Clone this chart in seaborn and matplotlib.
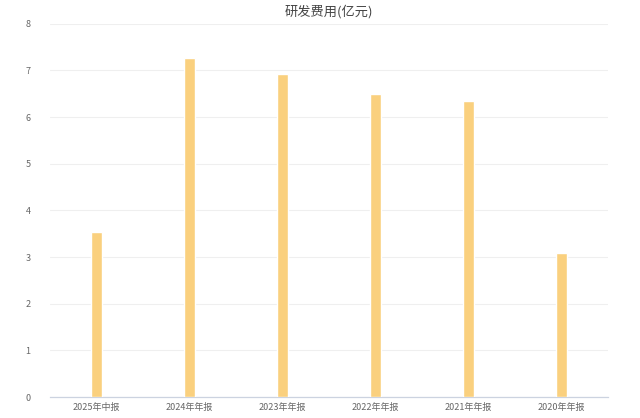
import matplotlib.pyplot as plt
import pandas as pd
import seaborn as sns

# 数据
periods = ['2025年中报', '2024年年报', '2023年年报', '2022年年报', '2021年年报', '2020年年报']
rd_cost = [3.54, 7.26, 6.93, 6.49, 6.35, 3.09]

df = pd.DataFrame({'报告期': periods, '研发费用': rd_cost})

sns.set_style('white')
plt.rcParams['font.family'] = ['Noto Sans CJK SC', 'DejaVu Sans']
plt.rcParams['axes.unicode_minus'] = False

fig = plt.figure(figsize=(6.4, 4.18), dpi=100)
ax = fig.add_axes([0.078, 0.05, 0.872, 0.893])

sns.barplot(data=df, x='报告期', y='研发费用', color='#FAD07E', width=0.11,
            saturation=1, ax=ax, zorder=3)

ax.set_ylim(0, 8)
ax.set_yticks(range(0, 9))
ax.set_xlim(-0.5, 5.5)
ax.grid(axis='y', color='#EFEFEF', linewidth=0.8, zorder=0)
for s in ['top', 'right', 'left']:
    ax.spines[s].set_visible(False)
ax.spines['bottom'].set_color('#CCD3E0')
ax.spines['bottom'].set_linewidth(0.9)

# 分类之间的刻度线
ax.set_xticks([i - 0.5 for i in range(7)], minor=True)
ax.tick_params(axis='x', which='minor', length=4, color='#CCD3E0', width=0.9)
ax.tick_params(axis='x', which='major', length=0, labelsize=6.5, labelcolor='#666666', pad=4)
ax.tick_params(axis='y', length=0, labelsize=6.5, labelcolor='#666666', pad=14)

ax.set_xlabel('')
ax.set_ylabel('')
ax.set_title('研发费用(亿元)', fontsize=9.5, color='#444444', pad=6)

plt.savefig('out.png', dpi=100)
